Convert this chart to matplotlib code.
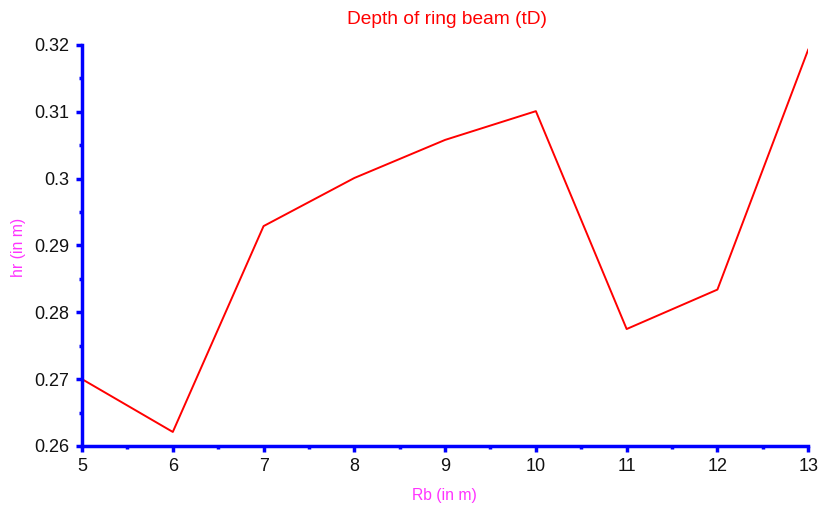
import numpy as np
import matplotlib.pyplot as plt
from matplotlib.ticker import MultipleLocator

plt.rcParams['font.family'] = ['Liberation Sans', 'DejaVu Sans']

# data
rb = [5, 6, 7, 8, 9, 10, 11, 12, 13]
hr = [0.2700, 0.2621, 0.2929, 0.3001, 0.3058, 0.3101, 0.2775, 0.2834, 0.3193]
ytick_vals = [0.26, 0.27, 0.28, 0.29, 0.30, 0.31, 0.32]
ytick_labels = ['0.26', '0.27', '0.28', '0.29', '0.3', '0.31', '0.32']

fig = plt.figure(figsize=(8.22, 5.16), dpi=100)
ax = fig.add_axes([0.0998, 0.1357, 0.8834, 0.7771])

ax.plot(rb, hr, color='red', linewidth=1.4)

ax.set_xlim(5, 13)
ax.set_ylim(0.26, 0.32)
ax.xaxis.set_major_locator(MultipleLocator(1))
ax.xaxis.set_minor_locator(MultipleLocator(0.5))
ax.yaxis.set_minor_locator(MultipleLocator(0.005))
ax.set_yticks(ytick_vals)
ax.set_yticklabels(ytick_labels)

for side in ['top', 'right']:
    ax.spines[side].set_visible(False)
for side in ['left', 'bottom']:
    ax.spines[side].set_color('blue')
    ax.spines[side].set_linewidth(2.5)

ax.tick_params(which='major', direction='out', length=4, width=2.5, color='blue',
               labelsize=13, labelcolor='#111111', pad=5)
ax.tick_params(which='minor', direction='out', length=2, width=2.5, color='blue')

fig.text(0.544, 0.963, 'Depth of ring beam (tD)', color='red', fontsize=13.8,
         ha='center', va='center')
fig.text(0.541, 0.04, 'Rb (in m)', color='#ff33ff', fontsize=11.3,
         ha='center', va='center')
fig.text(0.022, 0.52, 'hr (in m)', color='#ff33ff', fontsize=11.3,
         ha='center', va='center', rotation=90)

fig.savefig('out.png', dpi=100)
